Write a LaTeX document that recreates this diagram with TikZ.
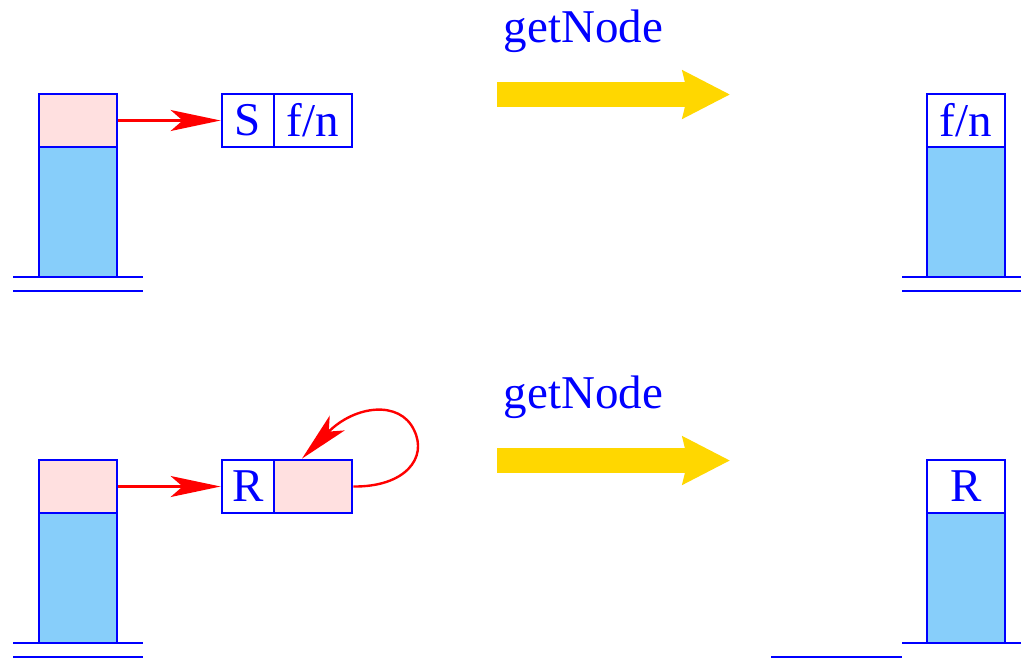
\documentclass[tikz,border=0pt]{standalone}
\usepackage{fontspec}
\setmainfont{Liberation Serif}
\usetikzlibrary{arrows.meta}
\definecolor{cblue}{RGB}{0,0,255}
\definecolor{cpink}{RGB}{255,224,224}
\definecolor{clight}{RGB}{135,206,250}
\definecolor{cgold}{RGB}{255,215,0}
\definecolor{cred}{RGB}{255,0,0}
\begin{document}
\begin{tikzpicture}[x=0.5pt,y=-0.5pt,
  every node/.style={font=\fontsize{23.5}{28}\selectfont, text=cblue},
  cell/.style={draw=cblue, line width=1.4pt, inner sep=0pt, minimum height=26.5pt, minimum width=39pt},
  smallcell/.style={cell, minimum width=26pt},
  pinkcell/.style={cell, fill=cpink},
  stackbody/.style={cell, fill=clight, minimum height=65pt},
  baseline/.style={draw=cblue, line width=1.4pt},
  ptr/.style={draw=cred, line width=1.2pt, -{Stealth[length=25pt,width=10.5pt,inset=6pt]}},
  bigarrow/.style={draw=cgold, line width=12.5pt, -{Stealth[length=23.5pt,width=23.5pt,inset=2.5pt]}},
  label/.style={anchor=base, inner sep=0pt}
]
\useasboundingbox (0,0) rectangle (1021,660);

% ---------- top row ----------
\node[pinkcell] (p1) at (78,120.5) {};
\node[stackbody] (b1) at (78,212) {};
\coordinate (l1a) at (13,277); \coordinate (l1b) at (143,277);
\coordinate (l1c) at (13,291); \coordinate (l1d) at (143,291);
\draw[baseline] (l1a) -- (l1b);
\draw[baseline] (l1c) -- (l1d);
\node[smallcell] (s1) at (248,120.5) {S};
\node[cell] (f1) at (313,120.5) {f/n};
\draw[ptr] (p1.east) -- (s1.west);

\node[label] (g1) at (583.5,42) {getNode};
\coordinate (a1s) at (497,94.5); \coordinate (a1e) at (730,94.5);
\draw[bigarrow] (a1s) -- (a1e);

\node[cell, fill=white] (f2) at (966,120.5) {f/n};
\node[stackbody] (b2) at (966,212) {};
\coordinate (l2a) at (902,277); \coordinate (l2b) at (1021,277);
\coordinate (l2c) at (902,291); \coordinate (l2d) at (1021,291);
\draw[baseline] (l2a) -- (l2b);
\draw[baseline] (l2c) -- (l2d);

% ---------- bottom row ----------
\node[pinkcell] (p3) at (78,486.5) {};
\node[stackbody] (b3) at (78,578) {};
\coordinate (l3a) at (13,643); \coordinate (l3b) at (143,643);
\coordinate (l3c) at (13,657); \coordinate (l3d) at (143,657);
\draw[baseline] (l3a) -- (l3b);
\draw[baseline] (l3c) -- (l3d);
\node[smallcell] (r3) at (248,486.5) {R};
\node[pinkcell] (q3) at (313,486.5) {};
\draw[ptr] (p3.east) -- (r3.west);
\coordinate (lp) at (414,430);
\draw[ptr] (q3.east) .. controls (405,487) and (428,458) .. (lp)
  .. controls (400,400) and (355,405) .. ([xshift=-5.5pt]q3.north);

\node[label] (g2) at (583.5,408) {getNode};
\coordinate (a2s) at (497,460.5); \coordinate (a2e) at (730,460.5);
\draw[bigarrow] (a2s) -- (a2e);

\node[cell, fill=white] (r4) at (966,486.5) {R};
\node[stackbody] (b4) at (966,578) {};
\coordinate (l4a) at (902,643); \coordinate (l4b) at (1021,643);
\coordinate (l4c) at (771,657); \coordinate (l4d) at (902,657);
\draw[baseline] (l4a) -- (l4b);
\draw[baseline] (l4c) -- (l4d);
\end{tikzpicture}
\end{document}
